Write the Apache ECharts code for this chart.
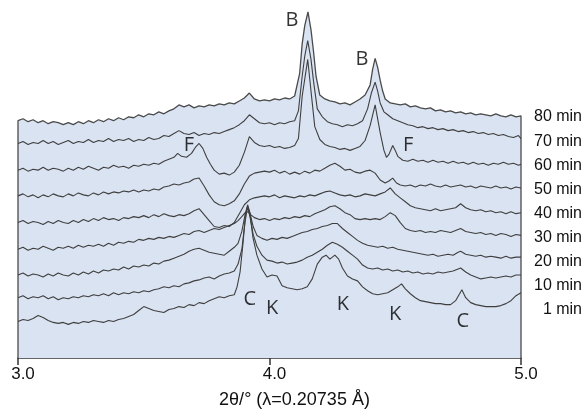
<!DOCTYPE html>
<html>
<head>
<meta charset="utf-8">
<title>In situ XRD patterns</title>
<script src="https://cdn.jsdelivr.net/npm/echarts@6/dist/echarts.min.js"></script>
<style>
html,body{margin:0;padding:0;background:#fff;}
#chart{width:585px;height:414px;}
</style>
</head>
<body>
<div id="chart"></div>
<script>
// intensities, each pattern already carries its waterfall offset
var min80 = [[3.00,240],[3.02,242],[3.04,239],[3.06,241],[3.08,238],[3.10,240],[3.12,237],[3.14,239],[3.16,238],[3.18,236],
[3.20,238],[3.22,236],[3.24,239],[3.26,237],[3.28,240],[3.30,238],[3.32,241],[3.34,239],[3.36,242],[3.38,240],
[3.40,243],[3.42,241],[3.44,244],[3.46,243],[3.48,246],[3.50,244],[3.52,247],[3.54,246],[3.56,249],[3.58,247],
[3.60,250],[3.62,252],[3.64,256],[3.66,254],[3.68,256],[3.70,253],[3.72,255],[3.74,254],[3.76,256],[3.78,255],
[3.80,257],[3.82,256],[3.84,258],[3.86,257],[3.88,260],[3.90,263],[3.92,268],[3.94,262],[3.96,260],[3.98,261],
[4.00,260],[4.02,262],[4.04,261],[4.06,263],[4.08,262],[4.10,265],[4.12,288],[4.13,318],[4.14,336],[4.153,350],[4.165,332],[4.175,310],[4.185,285],
[4.20,266],[4.22,262],[4.24,260],[4.26,259],[4.28,257],[4.30,258],[4.32,256],[4.34,259],[4.36,262],[4.38,266],
[4.40,276],[4.41,292],[4.42,303],[4.43,294],[4.44,281],[4.45,270],[4.46,262],[4.48,258],[4.50,257],[4.52,256],[4.54,257],[4.56,254],[4.58,255],
[4.60,253],[4.62,252],[4.64,253],[4.66,250],[4.68,251],[4.70,249],[4.72,250],[4.74,248],[4.76,249],[4.78,247],
[4.80,248],[4.82,246],[4.84,247],[4.86,246],[4.88,245],[4.90,247],[4.92,245],[4.94,244],[4.96,246],[4.98,244],[5.00,245]];

var min70 = [[3.00,217],[3.02,219],[3.04,216],[3.06,218],[3.08,217],[3.10,220],[3.12,217],[3.14,219],[3.16,216],[3.18,218],
[3.20,220],[3.22,217],[3.24,219],[3.26,218],[3.28,221],[3.30,218],[3.32,220],[3.34,219],[3.36,222],[3.38,219],
[3.40,221],[3.42,220],[3.44,222],[3.46,219],[3.48,221],[3.50,220],[3.52,223],[3.54,221],[3.56,222],[3.58,225],
[3.60,224],[3.62,227],[3.64,230],[3.66,227],[3.68,226],[3.70,228],[3.72,225],[3.74,227],[3.76,226],[3.78,228],
[3.80,227],[3.82,229],[3.84,231],[3.86,233],[3.88,236],[3.90,240],[3.92,246],[3.94,242],[3.96,238],[3.98,237],
[4.00,238],[4.02,236],[4.04,238],[4.06,237],[4.08,239],[4.10,240],[4.115,250],[4.13,285],[4.14,305],[4.152,321],[4.165,302],[4.175,280],[4.19,252],
[4.21,244],[4.23,239],[4.25,237],[4.27,236],[4.29,234],[4.31,236],[4.33,235],[4.35,237],[4.37,240],[4.39,252],
[4.405,268],[4.42,279],[4.43,270],[4.44,258],[4.455,249],[4.47,246],[4.49,242],[4.51,240],[4.53,238],[4.55,236],[4.57,235],[4.59,233],
[4.61,234],[4.63,232],[4.65,233],[4.67,231],[4.69,232],[4.71,230],[4.73,231],[4.75,229],[4.77,230],[4.79,228],
[4.81,229],[4.83,227],[4.85,228],[4.87,226],[4.89,227],[4.91,225],[4.93,226],[4.95,224],[4.97,223],[4.99,225],[5.00,222]];

var min60 = [[3.00,190],[3.02,192],[3.04,189],[3.06,191],[3.08,190],[3.10,193],[3.12,190],[3.14,192],[3.16,191],[3.18,189],
[3.20,192],[3.22,190],[3.24,193],[3.26,191],[3.28,194],[3.30,192],[3.32,190],[3.34,193],[3.36,192],[3.38,195],
[3.40,193],[3.42,194],[3.44,192],[3.46,195],[3.48,194],[3.50,196],[3.52,195],[3.54,197],[3.56,196],[3.58,199],
[3.60,201],[3.62,203],[3.635,207],[3.65,204],[3.67,203],[3.69,207],[3.705,213],[3.72,217],[3.735,212],[3.75,203],
[3.765,196],[3.78,190],[3.80,186],[3.82,187],[3.84,185],[3.86,188],[3.88,195],[3.90,208],[3.92,224],[3.94,218],
[3.96,215],[3.98,214],[4.00,215],[4.02,213],[4.04,214],[4.06,212],[4.08,213],[4.10,215],[4.115,222],[4.13,265],[4.152,302],[4.165,270],[4.18,234],
[4.20,221],[4.22,216],[4.24,214],[4.26,213],[4.28,211],[4.30,212],[4.32,210],[4.34,212],[4.36,214],[4.38,220],
[4.40,235],[4.42,256],[4.44,228],[4.455,210],[4.465,203],[4.475,206],[4.49,215],[4.50,210],[4.51,204],[4.53,200],[4.55,199],[4.57,201],[4.59,199],
[4.61,200],[4.63,198],[4.65,200],[4.67,198],[4.69,199],[4.71,197],[4.73,199],[4.75,197],[4.77,198],[4.79,196],
[4.81,198],[4.83,196],[4.85,197],[4.87,195],[4.89,197],[4.91,196],[4.93,198],[4.95,196],[4.97,197],[4.99,195],[5.00,196]];

var min50 = [[3.00,164],[3.02,166],[3.04,163],[3.06,165],[3.08,162],[3.10,165],[3.12,163],[3.14,166],[3.16,164],[3.18,163],
[3.20,166],[3.22,164],[3.24,167],[3.26,165],[3.28,164],[3.30,167],[3.32,165],[3.34,168],[3.36,166],[3.38,168],
[3.40,167],[3.42,169],[3.44,168],[3.46,170],[3.48,168],[3.50,170],[3.52,169],[3.54,171],[3.56,170],[3.58,173],
[3.60,174],[3.62,176],[3.64,175],[3.66,177],[3.68,178],[3.70,181],[3.72,182],[3.74,174],[3.76,165],[3.78,158],
[3.80,155],[3.82,154],[3.84,156],[3.86,159],[3.88,166],[3.90,176],[3.92,184],[3.94,187],[3.96,188],[3.98,189],
[4.00,188],[4.02,190],[4.04,187],[4.06,189],[4.08,186],[4.10,188],[4.12,186],[4.14,189],[4.16,187],[4.18,190],
[4.20,189],[4.22,192],[4.24,195],[4.26,197],[4.28,194],[4.30,190],[4.32,191],[4.34,188],[4.36,187],[4.38,189],
[4.40,190],[4.42,187],[4.44,180],[4.46,177],[4.475,179],[4.49,182],[4.505,177],[4.52,175],[4.54,174],[4.56,175],[4.58,173],
[4.60,175],[4.62,174],[4.64,176],[4.66,174],[4.68,173],[4.70,175],[4.72,173],[4.74,174],[4.76,175],[4.78,173],
[4.80,174],[4.82,172],[4.84,174],[4.86,173],[4.88,172],[4.90,174],[4.92,172],[4.94,173],[4.96,171],[4.98,173],[5.00,172]];

var min40 = [[3.00,137],[3.02,139],[3.04,136],[3.06,138],[3.08,137],[3.10,135],[3.12,138],[3.14,136],[3.16,139],[3.18,137],
[3.20,136],[3.22,139],[3.24,137],[3.26,140],[3.28,138],[3.30,141],[3.32,139],[3.34,142],[3.36,140],[3.38,141],
[3.40,139],[3.42,142],[3.44,141],[3.46,143],[3.48,142],[3.50,144],[3.52,142],[3.54,145],[3.56,143],[3.58,146],
[3.60,144],[3.62,143],[3.64,145],[3.66,144],[3.68,146],[3.70,149],[3.72,151],[3.74,145],[3.76,139],[3.78,133],
[3.80,132],[3.82,134],[3.84,133],[3.86,137],[3.88,146],[3.90,155],[3.92,160],[3.94,162],[3.96,163],[3.98,164],
[4.00,163],[4.02,165],[4.04,162],[4.06,164],[4.08,163],[4.10,162],[4.12,164],[4.14,163],[4.16,165],[4.18,164],
[4.20,166],[4.22,168],[4.24,169],[4.26,167],[4.28,165],[4.30,164],[4.32,165],[4.34,163],[4.36,164],[4.38,166],
[4.40,165],[4.42,164],[4.44,166],[4.46,168],[4.48,172],[4.50,166],[4.52,162],[4.54,158],[4.56,154],[4.58,152],
[4.60,151],[4.62,150],[4.64,149],[4.66,151],[4.68,149],[4.70,150],[4.72,151],[4.74,152],[4.76,156],[4.78,152],
[4.80,150],[4.82,149],[4.84,150],[4.86,148],[4.88,149],[4.90,147],[4.92,148],[4.94,146],[4.96,148],[4.98,146],[5.00,147]];

var min30 = [[3.00,110],[3.02,112],[3.04,109],[3.06,111],[3.08,110],[3.10,113],[3.12,111],[3.14,109],[3.16,112],[3.18,111],
[3.20,113],[3.22,111],[3.24,114],[3.26,112],[3.28,114],[3.30,113],[3.32,115],[3.34,113],[3.36,116],[3.38,114],
[3.40,117],[3.42,116],[3.44,118],[3.46,117],[3.48,120],[3.50,119],[3.52,121],[3.54,120],[3.56,122],[3.58,121],
[3.60,123],[3.62,122],[3.64,124],[3.66,126],[3.68,125],[3.70,128],[3.72,129],[3.74,127],[3.76,129],[3.78,131],
[3.80,130],[3.82,132],[3.84,134],[3.86,136],[3.875,139],[3.89,143],[3.903,147],[3.913,148],[3.925,145],[3.94,142],
[3.96,140],[3.98,141],[4.00,139],[4.02,141],[4.04,140],[4.06,142],[4.08,141],[4.10,143],[4.12,142],[4.14,144],
[4.16,143],[4.18,146],[4.20,148],[4.22,150],[4.24,153],[4.26,154],[4.28,151],[4.30,147],[4.32,145],[4.34,141],
[4.36,140],[4.38,141],[4.40,140],[4.42,141],[4.44,140],[4.46,143],[4.48,147],[4.50,144],[4.52,137],[4.54,131],
[4.56,129],[4.58,128],[4.60,129],[4.62,127],[4.64,128],[4.66,127],[4.68,129],[4.70,128],[4.72,127],[4.74,129],
[4.76,131],[4.78,128],[4.80,127],[4.82,126],[4.84,127],[4.86,125],[4.88,126],[4.90,124],[4.92,126],[4.94,125],
[4.96,123],[4.98,125],[5.00,124]];

var min20 = [[3.00,84],[3.02,86],[3.04,83],[3.06,85],[3.08,84],[3.10,82],[3.12,85],[3.14,83],[3.16,86],[3.18,84],
[3.20,83],[3.22,86],[3.24,84],[3.26,87],[3.28,85],[3.30,88],[3.32,86],[3.34,89],[3.36,88],[3.38,90],
[3.40,89],[3.42,92],[3.44,90],[3.46,93],[3.48,92],[3.50,94],[3.52,93],[3.54,96],[3.56,95],[3.58,98],
[3.60,99],[3.62,101],[3.64,103],[3.66,105],[3.68,108],[3.70,110],[3.72,111],[3.74,109],[3.76,107],[3.78,106],
[3.80,105],[3.82,104],[3.84,108],[3.86,112],[3.875,116],[3.89,128],[3.903,145],[3.913,153],[3.923,146],[3.935,133],
[3.95,124],[3.97,121],[3.99,119],[4.01,121],[4.03,120],[4.05,122],[4.07,121],[4.09,123],[4.11,125],[4.13,127],
[4.15,128],[4.17,130],[4.19,131],[4.21,133],[4.23,134],[4.25,136],[4.27,136],[4.29,131],[4.31,127],[4.33,123],
[4.35,119],[4.37,116],[4.39,114],[4.41,113],[4.43,112],[4.45,113],[4.47,111],[4.49,112],[4.51,110],[4.53,109],
[4.55,108],[4.57,107],[4.59,106],[4.61,105],[4.63,104],[4.65,105],[4.67,103],[4.69,104],[4.71,105],[4.73,104],
[4.75,107],[4.76,108],[4.78,105],[4.80,104],[4.82,103],[4.84,104],[4.86,102],[4.88,103],[4.90,102],[4.92,101],
[4.94,103],[4.96,101],[4.98,102],[5.00,102]];

var min10 = [[3.00,61],[3.02,63],[3.04,60],[3.06,62],[3.08,61],[3.10,63],[3.12,60],[3.14,62],[3.16,59],[3.18,61],
[3.20,60],[3.22,62],[3.24,61],[3.26,63],[3.28,62],[3.30,64],[3.32,63],[3.34,65],[3.36,63],[3.38,66],
[3.40,64],[3.42,66],[3.44,65],[3.46,67],[3.48,66],[3.50,68],[3.52,67],[3.54,69],[3.56,70],[3.58,72],
[3.60,71],[3.62,73],[3.64,72],[3.66,75],[3.68,76],[3.70,78],[3.72,79],[3.74,81],[3.76,82],[3.78,80],
[3.80,83],[3.82,85],[3.84,86],[3.86,88],[3.875,95],[3.89,110],[3.903,138],[3.913,153],[3.923,142],[3.935,125],
[3.95,113],[3.97,104],[3.99,99],[4.01,98],[4.03,96],[4.05,97],[4.07,95],[4.09,96],[4.11,97],[4.13,99],
[4.15,102],[4.17,104],[4.19,107],[4.21,110],[4.23,114],[4.25,117],[4.27,115],[4.29,112],[4.31,108],[4.33,104],
[4.35,100],[4.37,94],[4.39,91],[4.41,90],[4.43,91],[4.45,89],[4.47,90],[4.49,88],[4.51,89],[4.53,87],
[4.55,88],[4.57,86],[4.59,87],[4.61,85],[4.63,86],[4.65,85],[4.67,87],[4.69,86],[4.71,87],[4.73,88],
[4.75,90],[4.76,91],[4.78,87],[4.80,84],[4.82,82],[4.84,80],[4.86,81],[4.88,82],[4.90,81],[4.92,82],
[4.94,83],[4.96,82],[4.98,84],[5.00,84]];

var min1 = [[3.00,37],[3.02,39],[3.04,38],[3.06,40],[3.08,43],[3.10,41],[3.12,38],[3.14,36],[3.16,35],[3.18,36],
[3.20,34],[3.22,36],[3.24,35],[3.26,37],[3.28,36],[3.30,38],[3.32,37],[3.34,36],[3.36,38],[3.38,37],
[3.40,39],[3.42,40],[3.44,42],[3.46,44],[3.48,48],[3.50,52],[3.52,50],[3.54,48],[3.56,47],[3.58,46],
[3.60,49],[3.62,50],[3.64,52],[3.66,51],[3.68,54],[3.70,53],[3.72,56],[3.74,55],[3.76,58],[3.78,60],
[3.80,62],[3.82,61],[3.84,63],[3.86,64],[3.871,72],[3.883,87],[3.895,117],[3.905,147],[3.913,155],[3.922,147],
[3.934,122],[3.95,104],[3.97,90],[3.99,82],[4.01,84],[4.03,83],[4.05,73],[4.07,71],[4.09,70],[4.11,69],
[4.13,70],[4.15,72],[4.17,80],[4.19,95],[4.21,102],[4.225,104],[4.24,100],[4.26,104],[4.275,100],[4.29,91],
[4.31,83],[4.33,80],[4.35,78],[4.37,72],[4.39,68],[4.41,65],[4.43,64],[4.45,65],[4.47,66],[4.49,69],
[4.51,72],[4.525,75],[4.54,70],[4.56,65],[4.58,61],[4.60,58],[4.62,57],[4.64,56],[4.66,55],[4.68,55],
[4.70,54],[4.72,54],[4.74,58],[4.765,69],[4.78,61],[4.80,56],[4.82,54],[4.84,53],[4.86,52],[4.88,52],
[4.90,52],[4.92,53],[4.94,55],[4.96,58],[4.98,63],[5.00,66]];

var timeLabels = ['1 min', '10 min', '20 min', '30 min', '40 min', '50 min', '60 min', '70 min', '80 min'];

// phase markers (B, F, C, K) and where they sit
var phaseLetters = ['B', 'B', 'F', 'F', 'C', 'K', 'K', 'K', 'C'];
var phaseX = [4.089, 4.368, 3.680, 4.551, 3.922, 4.010, 4.292, 4.499, 4.769];
var phaseY = [342, 302, 215, 215, 59, 50, 54, 44, 37];

var xTicks = [3.0, 4.0, 5.0];

var chart = echarts.init(document.getElementById('chart'));

// top pattern first: its area is the blue backdrop for the rest
var traces = [min80, min70, min60, min50, min40, min30, min20, min10, min1];
var series = [];
traces.forEach(function(t, i) {
	var s = {
		type: 'line',
		data: t,
		showSymbol: false,
		symbol: 'none',
		silent: true,
		lineStyle: {color: '#3f3f3f', width: 1.1},
		z: 3
	};
	if (i == 0) {
		// close the outline down to the axis at both ends
		s.data = [[xTicks[0], 0]].concat(t, [[xTicks[2], 0]]);
		s.areaStyle = {color: '#dae3f2', opacity: 1};
		s.lineStyle = {color: '#4a4a4a', width: 1.3};
		s.z = 2;
	}
	series.push(s);
});

var marks = [];
phaseLetters.forEach(function(l, i) {
	marks.push([phaseX[i], phaseY[i], l]);
});
series.push({
	type: 'scatter',
	data: marks,
	symbolSize: 1,
	itemStyle: {color: 'rgba(0,0,0,0)'},
	silent: true,
	z: 5,
	label: {
		show: true,
		position: 'inside',
		formatter: function(p) { return p.data[2]; },
		fontFamily: 'Open Sans',
		fontSize: 20,
		color: '#000'
	}
});

chart.setOption({
	animation: false,
	backgroundColor: '#fff',
	grid: [
		{left: 18, right: 64, top: 10, bottom: 52},
		{left: 18, right: 64, top: 117, bottom: 104}
	],
	xAxis: [{
		type: 'value',
		min: xTicks[0],
		max: xTicks[2],
		interval: 1,
		name: '2θ/° (λ=0.20735 Å)',
		nameLocation: 'middle',
		nameGap: 33,
		nameTextStyle: {fontFamily: 'Liberation Sans', fontSize: 18, color: '#111', padding: [0, 0, 0, 50]},
		axisLine: {lineStyle: {color: '#333', width: 1.5}},
		axisTick: {inside: false, length: 7, lineStyle: {color: '#333', width: 1.5}},
		axisLabel: {
			fontFamily: 'Liberation Sans', fontSize: 17, color: '#111', margin: 8,
			padding: [0, 0, 0, 10],
			formatter: function(v) { return v.toFixed(1); }
		},
		splitLine: {show: false}
	}, {
		gridIndex: 1,
		type: 'value',
		show: false
	}],
	yAxis: [{
		type: 'value',
		min: 0,
		max: 352,
		show: false
	}, {
		gridIndex: 1,
		type: 'category',
		position: 'right',
		boundaryGap: false,
		data: timeLabels,
		axisLine: {show: false},
		axisTick: {show: false},
		splitLine: {show: false},
		axisLabel: {
			align: 'right',
			margin: 61,
			fontFamily: 'Liberation Sans',
			fontSize: 16,
			color: '#111'
		}
	}],
	series: series
});
</script>
</body>
</html>
